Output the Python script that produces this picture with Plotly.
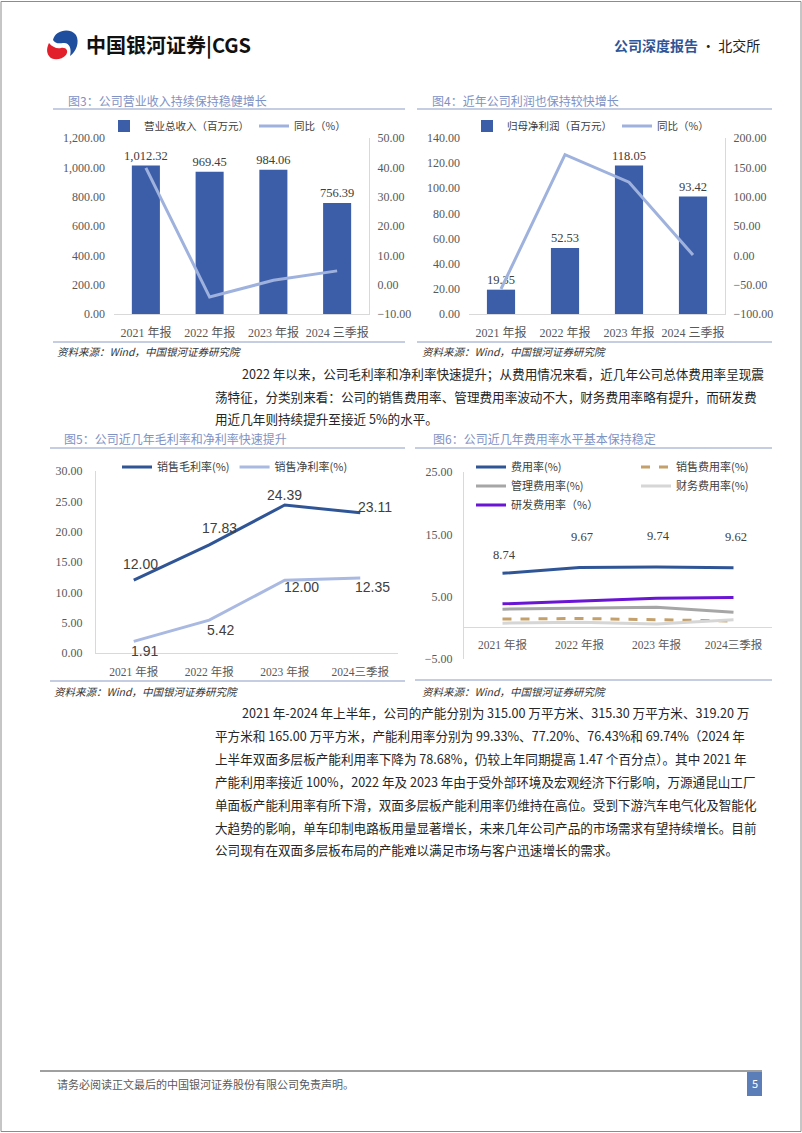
import plotly.graph_objects as go

W, H = 802, 1133


def X(px):
    return px / W


def Y(py):
    return 1 - py / H


# ---- data ----
periods = ['2021 年报', '2022 年报', '2023 年报', '2024 三季报']
revenue = [1012.32, 969.45, 984.06, 756.39]
revenue_yoy = [39.8, -4.23, 1.51, 4.7]
profit = [19.35, 52.53, 118.05, 93.42]
profit_yoy = [-57.4, 171.5, 124.7, 0.6]

periods_b = ['2021 年报', '2022 年报', '2023 年报', '2024三季报']
gross_margin = [12.00, 17.83, 24.39, 23.11]
net_margin = [1.91, 5.42, 12.00, 12.35]

fee_rate = [8.74, 9.67, 9.74, 9.62]
sales_fee = [1.4, 1.5, 1.3, 1.1]
admin_fee = [3.0, 3.1, 3.3, 2.5]
fin_fee = [0.75, 0.9, 0.6, 1.3]
rd_fee = [3.85, 4.3, 4.75, 4.87]

# ---- styles ----
SERIF = 'Liberation Serif, Noto Sans CJK SC, serif'
CJK = 'Noto Sans CJK SC, sans-serif'
SANS = 'Liberation Sans, Noto Sans CJK SC, sans-serif'
BAR = '#3C5EA9'
LIGHT = '#9FB2DE'
DARK = '#2F5597'
RULE = '#8A9CC6'
AXLINE = '#D9D9D9'
TICK = dict(family=SERIF, size=12, color='#595959')

fig = go.Figure()

# chart 1: revenue
fig.add_trace(go.Bar(x=periods, y=revenue, name='营业总收入（百万元）', marker_color=BAR,
                     width=0.44, texttemplate='%{y:,.2f}', textposition='outside',
                     constraintext='none',
                     textfont=dict(family=SERIF, size=12.5, color='#404040'),
                     cliponaxis=False, xaxis='x', yaxis='y', legend='legend'))
fig.add_trace(go.Scatter(x=periods, y=revenue_yoy, name='同比（%）', mode='lines',
                         line=dict(color=LIGHT, width=3), xaxis='x', yaxis='y2', legend='legend'))

# chart 2: net profit
fig.add_trace(go.Bar(x=periods, y=profit, name='归母净利润（百万元）', marker_color=BAR,
                     width=0.44, texttemplate='%{y:.2f}', textposition='outside',
                     constraintext='none',
                     textfont=dict(family=SERIF, size=12.5, color='#404040'),
                     cliponaxis=False, xaxis='x2', yaxis='y3', legend='legend2'))
fig.add_trace(go.Scatter(x=periods, y=profit_yoy, name='同比（%）', mode='lines',
                         line=dict(color=LIGHT, width=3), xaxis='x2', yaxis='y4', legend='legend2'))

# chart 3: margins
fig.add_trace(go.Scatter(x=periods_b, y=gross_margin, name='销售毛利率(%)', mode='lines',
                         line=dict(color=DARK, width=3), xaxis='x3', yaxis='y5', legend='legend3'))
fig.add_trace(go.Scatter(x=periods_b, y=net_margin, name='销售净利率(%)', mode='lines',
                         line=dict(color='#A9B9E2', width=3), xaxis='x3', yaxis='y5', legend='legend3'))

# chart 4: expense ratios (one legend per entry to get the 2-column grid)
fee_series = [
    ('费用率(%)', fee_rate, dict(color=DARK, width=3), 'legend4'),
    ('销售费用率(%)', sales_fee, dict(color='#C4A06A', width=3, dash='dash'), 'legend5'),
    ('管理费用率(%)', admin_fee, dict(color='#A6A6A6', width=3), 'legend6'),
    ('财务费用率(%)', fin_fee, dict(color='#D6D6D6', width=3), 'legend7'),
    ('研发费用率（%）', rd_fee, dict(color='#6A14D4', width=3), 'legend8'),
]
for name, vals, ln, lg in fee_series:
    fig.add_trace(go.Scatter(x=periods_b, y=vals, name=name, mode='lines', line=ln,
                             xaxis='x4', yaxis='y6', legend=lg))

# ---- annotations ----
ann = []


def text(x, y, s, size=13, color='#262626', family=CJK, anchor='left', **kw):
    ann.append(dict(x=X(x), y=Y(y), xref='paper', yref='paper', text=s, showarrow=False,
                    xanchor=anchor, yanchor='middle',
                    font=dict(size=size, color=color, family=family, **kw)))


# header
text(84, 45, '<b>中国银河证券|CGS</b>', size=20, color='#111111')
text(762, 45, '<span style="color:#2F5597"><b>公司深度报告</b></span> · 北交所',
     size=14, color='#222222', anchor='right')

# chart titles and sources
title_col = '#7F92C4'
text(66, 100, '图3：公司营业收入持续保持稳健增长', size=12, color=title_col)
text(430, 100, '图4：近年公司利润也保持较快增长', size=12, color=title_col)
text(62, 438, '图5：公司近几年毛利率和净利率快速提升', size=12, color=title_col)
text(431, 438, '图6：公司近几年费用率水平基本保持稳定', size=12, color=title_col)
for sx, sy in [(55, 352), (420, 352), (52, 691), (420, 691)]:
    text(sx, sy, '资料来源：Wind，中国银河证券研究院', size=10.5, color='#333333', style='italic')

# chart 3 point labels
gross_dx, gross_dy = [7, 10, 0, 15], [16, 17, 10, 6]
net_dx, net_dy = [11, 11, 17, 12], [-10, -10, -7, -9]
for i, p in enumerate(periods_b):
    ann.append(dict(x=p, y=gross_margin[i], xref='x3', yref='y5', text=f'{gross_margin[i]:.2f}',
                    showarrow=False, xshift=gross_dx[i], yshift=gross_dy[i],
                    font=dict(family=SANS, size=14, color='#404040')))
    ann.append(dict(x=p, y=net_margin[i], xref='x3', yref='y5', text=f'{net_margin[i]:.2f}',
                    showarrow=False, xshift=net_dx[i], yshift=net_dy[i],
                    font=dict(family=SANS, size=14, color='#404040')))

# chart 4 point labels
fee_dy = [18, 31, 31, 31]
for i, p in enumerate(periods_b):
    ann.append(dict(x=p, y=fee_rate[i], xref='x4', yref='y6', text=f'{fee_rate[i]:.2f}',
                    showarrow=False, yshift=fee_dy[i], xshift=2,
                    font=dict(family=SERIF, size=12.5, color='#404040')))

# body text
para1 = [
    (240, 373, '2022 年以来，公司毛利率和净利率快速提升；从费用情况来看，近几年公司总体费用率呈现震'),
    (213, 396, '荡特征，分类别来看：公司的销售费用率、管理费用率波动不大，财务费用率略有提升，而研发费'),
    (213, 419, '用近几年则持续提升至接近 5%的水平。'),
]
para2 = [
    (240, 712, '2021 年-2024 年上半年，公司的产能分别为 315.00 万平方米、315.30 万平方米、319.20 万'),
    (213, 735, '平方米和 165.00 万平方米，产能利用率分别为 99.33%、77.20%、76.43%和 69.74%（2024 年'),
    (213, 758, '上半年双面多层板产能利用率下降为 78.68%，仍较上年同期提高 1.47 个百分点）。其中 2021 年'),
    (213, 781, '产能利用率接近 100%，2022 年及 2023 年由于受外部环境及宏观经济下行影响，万源通昆山工厂'),
    (213, 804, '单面板产能利用率有所下滑，双面多层板产能利用率仍维持在高位。受到下游汽车电气化及智能化'),
    (213, 827, '大趋势的影响，单车印制电路板用量显著增长，未来几年公司产品的市场需求有望持续增长。目前'),
    (213, 849, '公司现有在双面多层板布局的产能难以满足市场与客户迅速增长的需求。'),
]
for lx, ly, s in para1 + para2:
    text(lx, ly, s, size=12.6)

# footer
text(55, 1084, '请务必阅读正文最后的中国银河证券股份有限公司免责声明。', size=11, color='#595959')
text(755, 1083, '5', size=11, color='white', anchor='center')

# ---- shapes ----
shapes = []


def hline(x0, x1, y, color=RULE, width=1.2):
    shapes.append(dict(type='line', xref='paper', yref='paper', x0=X(x0), x1=X(x1),
                       y0=Y(y), y1=Y(y), line=dict(color=color, width=width)))


def path(cmds, color):
    out = []
    for c in cmds:
        pts = c[1:]
        out.append(c[0] + ' '.join(f'{X(pts[k]):.5f},{Y(pts[k + 1]):.5f}'
                                   for k in range(0, len(pts), 2)))
    shapes.append(dict(type='path', xref='paper', yref='paper', path=' '.join(out) + ' Z',
                       fillcolor=color, line=dict(width=0)))


shapes.append(dict(type='rect', xref='paper', yref='paper', x0=X(1), x1=X(801), y0=Y(1.5),
                   y1=Y(1131.5), line=dict(color='#8C8C8C', width=1)))
# logo
path([('M', 53, 40), ('C', 55, 30, 70, 27, 76, 35), ('C', 80, 42, 76, 52, 70, 56),
      ('C', 72, 48, 69, 42, 63, 43), ('C', 58, 44, 55, 43, 53, 40)], '#1F4E9E')
path([('M', 49, 43), ('C', 52, 47, 57, 49, 61, 48), ('C', 66, 47, 69, 51, 66, 55),
      ('C', 62, 60, 52, 61, 49, 56), ('C', 46, 52, 47, 47, 49, 43)], '#E2202C')

hline(53, 405, 109)
hline(417, 772, 109)
hline(53, 405, 342)
hline(417, 772, 342)
hline(50, 405, 448)
hline(415, 772, 448)
hline(50, 405, 681)
hline(415, 772, 680)
hline(40, 762, 1071, color='#404040', width=1)
shapes.append(dict(type='rect', xref='paper', yref='paper', x0=X(747), x1=X(762),
                   y0=Y(1096), y1=Y(1072), fillcolor='#5B7DB8', line=dict(width=0)))

# ---- axes ----


def xax(x0, x1, anchor, standoff=8, **kw):
    d = dict(domain=[X(x0), X(x1)], anchor=anchor, type='category', showgrid=False,
             zeroline=False, showline=True, linecolor=AXLINE, ticks='',
             range=[-0.5, 3.5],
             tickfont=dict(family=SERIF, size=12, color='#595959'), ticklabelstandoff=standoff)
    d.update(kw)
    return d


def yax(top, bottom, anchor, rng, dtick, fmt='.2f', standoff=6, **kw):
    d = dict(domain=[Y(bottom), Y(top)], anchor=anchor, range=rng, dtick=dtick, tick0=rng[0],
             tickformat=fmt, showgrid=False, zeroline=False, showline=False, ticks='',
             tickfont=TICK, ticklabelstandoff=standoff)
    d.update(kw)
    return d


def legend(x, y, size=10.5):
    return dict(x=X(x), y=Y(y), xanchor='left', yanchor='middle', orientation='h',
                bgcolor='rgba(0,0,0,0)', font=dict(family=CJK, size=size, color='#404040'),
                itemclick=False)


fig.update_layout(
    width=W, height=H, margin=dict(l=0, r=0, t=0, b=0), template='none',
    paper_bgcolor='white', plot_bgcolor='rgba(0,0,0,0)', showlegend=True,
    bargap=0.5,
    xaxis=xax(114, 369, 'y'),
    yaxis=yax(138, 314, 'x', [0, 1200], 200, fmt=',.2f', standoff=8),
    yaxis2=yax(138, 314, 'x', [-10, 50], 10, overlaying='y', side='right',
               showline=True, linecolor=AXLINE, standoff=5),
    xaxis2=xax(469, 725, 'y3'),
    yaxis3=yax(138, 314, 'x2', [0, 140], 20, standoff=8),
    yaxis4=yax(138, 314, 'x2', [-100, 200], 50, overlaying='y3', side='right',
               showline=True, linecolor=AXLINE, standoff=5),
    xaxis3=xax(96, 398, 'y5', tickfont=dict(family=SERIF, size=11.5, color='#595959')),
    yaxis5=yax(471, 653, 'x3', [0, 30], 5, standoff=10, showline=True, linecolor=AXLINE),
    xaxis4=xax(464, 772, 'free', position=Y(628), showline=False,
               tickfont=dict(family=SERIF, size=11.5, color='#595959')),
    yaxis6=yax(472, 659, 'x4', [-5, 25], 10, standoff=8, showline=True, linecolor=AXLINE,
               zeroline=True, zerolinecolor=AXLINE, zerolinewidth=1),
    legend=legend(104, 126),
    legend2=legend(467, 126),
    legend3=legend(117, 467, size=11),
    legend4=legend(471, 467, size=11),
    legend5=legend(636, 467, size=11),
    legend6=legend(471, 486, size=11),
    legend7=legend(636, 486, size=11),
    legend8=legend(471, 505, size=11),
    annotations=ann,
    shapes=shapes,
)

# the page body has a default 8px margin; drop it so the figure fills the window exactly
fig.write_html('out.html', config={'displayModeBar': False},
               post_script="document.body.style.margin='0px';document.body.style.overflow='hidden';")
